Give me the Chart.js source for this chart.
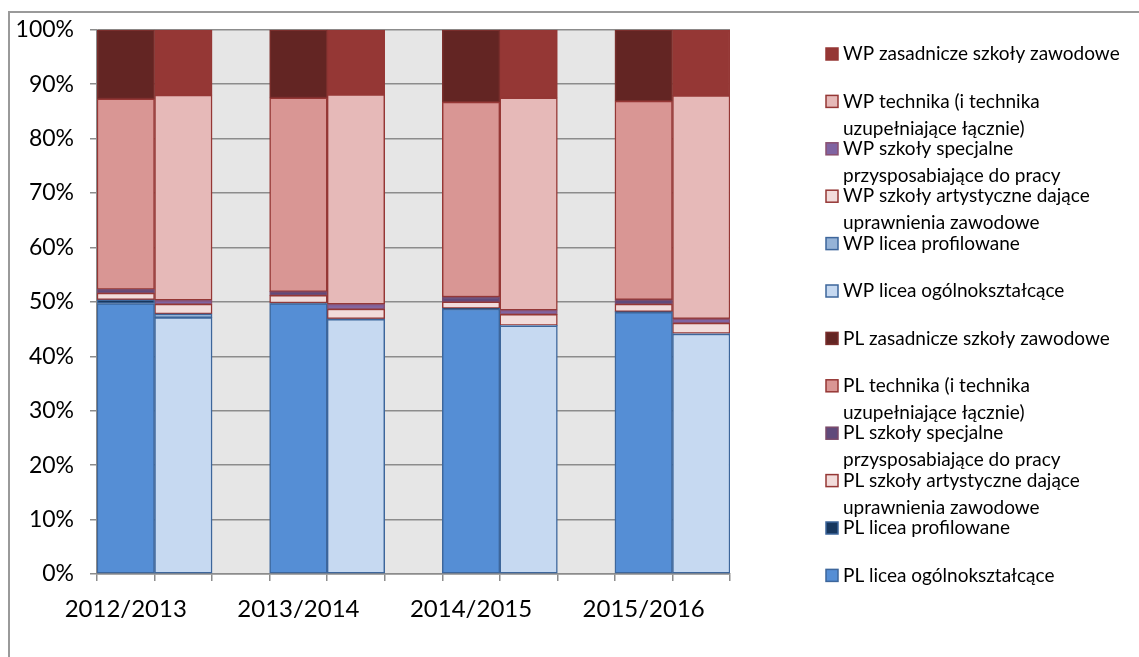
<!DOCTYPE html>
<html>
<head>
<meta charset="utf-8">
<script src="https://cdn.jsdelivr.net/npm/chart.js@4/dist/chart.umd.min.js"></script>
<style>
  html, body { margin: 0; padding: 0; background: #fff; }
  #wrap { width: 1139px; height: 657px; }
</style>
</head>
<body>
<div id="wrap"><canvas id="myChart" width="1139" height="657"></canvas></div>
<script>
// lata szkolne
const categories = ['2012/2013', '2013/2014', '2014/2015', '2015/2016'];
const yTicks = [0, 10, 20, 30, 40, 50, 60, 70, 80, 90, 100];

// udzialy w % (PL = Polska, WP = wielkopolskie)
const plOgolno    = [49.7, 49.7, 48.7, 48.1];
const plProfil    = [0.7, 0.1, 0.1, 0.1];
const plArtyst    = [1.2, 1.4, 1.2, 1.4];
const plSpecjalne = [0.7, 0.7, 0.9, 0.8];
const plTechnika  = [35.0, 35.6, 35.8, 36.5];
const plZasadn    = [12.7, 12.5, 13.3, 13.1];

const wpOgolno    = [47.1, 46.8, 45.6, 44.1];
const wpProfil    = [0.7, 0.1, 0.1, 0.1];
const wpArtyst    = [1.8, 1.8, 2.0, 1.9];
const wpSpecjalne = [0.7, 0.9, 0.8, 0.8];
const wpTechnika  = [37.7, 38.5, 39.0, 41.0];
const wpZasadn    = [12.0, 11.9, 12.5, 12.1];

// 3 miejsca na rok: PL, WP, przerwa (bez ostatniej przerwy)
const nSlots = categories.length * 3 - 1;
const slotLabels = [];
categories.forEach((c, i) => {
  slotLabels.push(c, '');
  if (i < categories.length - 1) slotLabels.push('');
});

function toSlots(values, offset) {
  const out = new Array(nSlots).fill(null);
  values.forEach((v, i) => { out[i * 3 + offset] = v; });
  return out;
}

const redEdge = '#953735';
const blueEdge = '#3d669b';

function ds(label, values, offset, bg, border) {
  return {
    label: label,
    data: toSlots(values, offset),
    backgroundColor: bg,
    borderColor: border,
    borderWidth: 1.5,
    borderSkipped: false,
    categoryPercentage: 1.0,
    barPercentage: 1.0
  };
}

const datasets = [
  ds('PL licea ogólnokształcące', plOgolno, 0, '#558ed5', blueEdge),
  ds('PL licea profilowane', plProfil, 0, '#17375e', blueEdge),
  ds('PL szkoły artystyczne dające\nuprawnienia zawodowe', plArtyst, 0, '#f2dcdb', redEdge),
  ds('PL szkoły specjalne\nprzysposabiające do pracy', plSpecjalne, 0, '#604a7b', '#7a4a6a'),
  ds('PL technika (i technika\nuzupełniające łącznie)', plTechnika, 0, '#d99694', redEdge),
  ds('PL zasadnicze szkoły zawodowe', plZasadn, 0, '#632523', '#7a2e2c'),
  ds('WP licea ogólnokształcące', wpOgolno, 1, '#c6d9f1', blueEdge),
  ds('WP licea profilowane', wpProfil, 1, '#95b3d7', blueEdge),
  ds('WP szkoły artystyczne dające\nuprawnienia zawodowe', wpArtyst, 1, '#f2dcdb', redEdge),
  ds('WP szkoły specjalne\nprzysposabiające do pracy', wpSpecjalne, 1, '#8064a2', '#8a5070'),
  ds('WP technika (i technika\nuzupełniające łącznie)', wpTechnika, 1, '#e6b9b8', redEdge),
  ds('WP zasadnicze szkoły zawodowe', wpZasadn, 1, '#953735', redEdge)
];

const FONT = 'Lato, "Open Sans", sans-serif';

// tlo wykresu + ramka
const bgPlugin = {
  id: 'bgPlugin',
  beforeDraw(chart) {
    const ctx = chart.ctx;
    const a = chart.chartArea;
    ctx.save();
    ctx.fillStyle = '#fff';
    ctx.fillRect(0, 0, chart.width, chart.height);
    ctx.fillStyle = '#e6e6e6';
    ctx.fillRect(a.left, a.top, a.right - a.left, a.bottom - a.top);
    ctx.strokeStyle = '#9a9a9a';
    ctx.lineWidth = 2;
    ctx.beginPath();
    ctx.moveTo(9, chart.height);
    ctx.lineTo(9, 12);
    ctx.lineTo(chart.width, 12);
    ctx.stroke();
    ctx.restore();
  }
};

// legenda po prawej (odwrocona kolejnosc, teksty wielowierszowe)
const legendPlugin = {
  id: 'legendPlugin',
  afterDraw(chart) {
    const ctx = chart.ctx;
    const items = chart.data.datasets.slice().reverse();
    const x0 = 826, y0 = 54, step = 47.4, lineH = 27, box = 12;
    ctx.save();
    ctx.font = '19px ' + FONT;
    ctx.textBaseline = 'middle';
    ctx.textAlign = 'left';
    items.forEach((d, i) => {
      const y = y0 + i * step;
      ctx.fillStyle = d.backgroundColor;
      ctx.fillRect(x0, y - box / 2, box, box);
      ctx.strokeStyle = d.borderColor;
      ctx.lineWidth = 1.5;
      ctx.strokeRect(x0, y - box / 2, box, box);
      ctx.fillStyle = '#000';
      d.label.split('\n').forEach((line, k) => {
        ctx.fillText(line, x0 + 17, y + k * lineH);
      });
    });
    ctx.restore();
  }
};

const ctx = document.getElementById('myChart').getContext('2d');
const myChart = new Chart(ctx, {
  type: 'bar',
  data: { labels: slotLabels, datasets: datasets },
  options: {
    responsive: false,
    animation: false,
    layout: { padding: { left: 0, top: 28, right: 409, bottom: 0 } },
    plugins: {
      legend: { display: false },
      tooltip: { enabled: false }
    },
    scales: {
      x: {
        stacked: true,
        offset: true,
        afterFit: (s) => { s.height = 83; },
        grid: {
          offset: true,
          drawOnChartArea: false,
          drawTicks: true,
          tickLength: 7,
          color: '#8c8c8c',
          lineWidth: 1.5
        },
        border: { color: '#8c8c8c', width: 1.5 },
        ticks: {
          autoSkip: false,
          maxRotation: 0,
          minRotation: 0,
          padding: 14,
          color: '#000',
          font: { family: FONT, size: 24 }
        }
      },
      y: {
        stacked: true,
        min: 0,
        max: 100,
        afterFit: (s) => { s.width = 97; },
        afterBuildTicks: (s) => { s.ticks = yTicks.map(v => ({ value: v })); },
        grid: {
          color: '#8c8c8c',
          lineWidth: 1.5,
          tickLength: 7
        },
        border: { color: '#8c8c8c', width: 1.5 },
        ticks: {
          padding: 16,
          color: '#000',
          font: { family: FONT, size: 23 },
          callback: (v) => v + '%'
        }
      }
    }
  },
  plugins: [bgPlugin, legendPlugin]
});
</script>
</body>
</html>
